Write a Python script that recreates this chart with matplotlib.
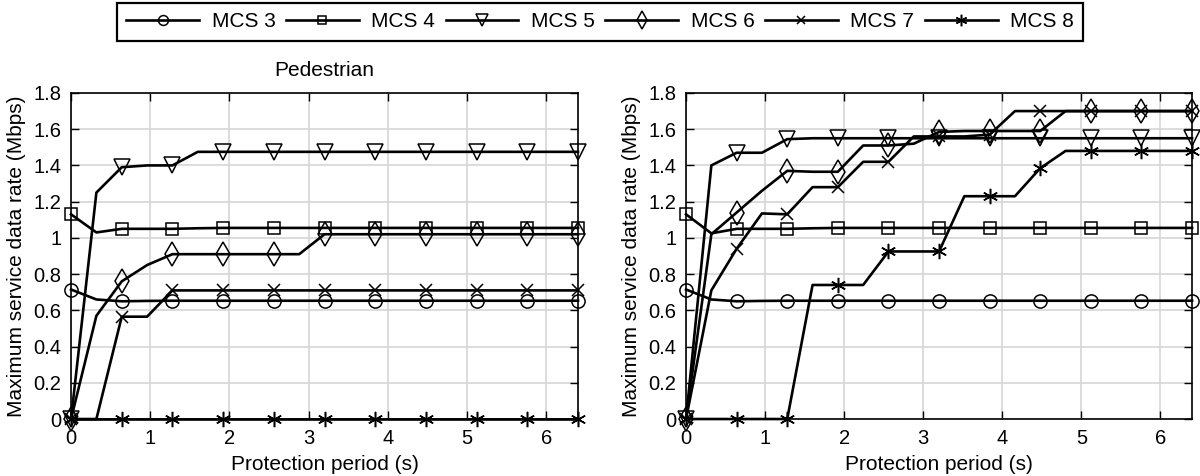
import numpy as np
from matplotlib import pyplot as plt

plt.rcParams['font.family'] = ['Liberation Sans', 'DejaVu Sans']
plt.rcParams['font.size'] = 14

# protection period (s)
period = [0, 0.32, 0.64, 0.96, 1.28, 1.6, 1.92, 2.24, 2.56, 2.88, 3.2,
          3.52, 3.84, 4.16, 4.48, 4.8, 5.12, 5.44, 5.76, 6.08, 6.4]

labels = ["MCS 3", "MCS 4", "MCS 5", "MCS 6", "MCS 7", "MCS 8"]

# pedestrian (left)
ped_mcs3 = [0.715, 0.66, 0.65, 0.652, 0.653, 0.653, 0.653, 0.653, 0.653, 0.653, 0.653,
            0.653, 0.653, 0.653, 0.653, 0.653, 0.653, 0.653, 0.653, 0.653, 0.653]
ped_mcs4 = [1.13, 1.03, 1.05, 1.05, 1.05, 1.053, 1.055, 1.055, 1.055, 1.055, 1.055,
            1.055, 1.055, 1.055, 1.055, 1.055, 1.055, 1.055, 1.055, 1.055, 1.055]
ped_mcs5 = [0, 1.25, 1.39, 1.40, 1.40, 1.475, 1.475, 1.475, 1.475, 1.475, 1.475,
            1.475, 1.475, 1.475, 1.475, 1.475, 1.475, 1.475, 1.475, 1.475, 1.475]
ped_mcs6 = [0, 0.57, 0.76, 0.85, 0.91, 0.91, 0.91, 0.91, 0.91, 0.91, 1.02,
            1.02, 1.02, 1.02, 1.02, 1.02, 1.02, 1.02, 1.02, 1.02, 1.02]
ped_mcs7 = [0, 0, 0.565, 0.565, 0.71, 0.71, 0.71, 0.71, 0.71, 0.71, 0.71,
            0.71, 0.71, 0.71, 0.71, 0.71, 0.71, 0.71, 0.71, 0.71, 0.71]
ped_mcs8 = [0, 0, 0, 0, 0, 0, 0, 0, 0, 0, 0,
            0, 0, 0, 0, 0, 0, 0, 0, 0, 0]

# right panel
veh_mcs3 = [0.715, 0.66, 0.65, 0.652, 0.653, 0.653, 0.653, 0.653, 0.653, 0.653, 0.653,
            0.653, 0.653, 0.653, 0.653, 0.653, 0.653, 0.653, 0.653, 0.653, 0.653]
veh_mcs4 = [1.13, 1.025, 1.05, 1.05, 1.05, 1.053, 1.055, 1.055, 1.055, 1.055, 1.055,
            1.055, 1.055, 1.055, 1.055, 1.055, 1.055, 1.055, 1.055, 1.055, 1.055]
veh_mcs5 = [0, 1.40, 1.47, 1.47, 1.545, 1.55, 1.55, 1.55, 1.55, 1.55, 1.55,
            1.55, 1.55, 1.55, 1.55, 1.55, 1.55, 1.55, 1.55, 1.55, 1.55]
veh_mcs6 = [0, 1.02, 1.14, 1.26, 1.37, 1.365, 1.365, 1.51, 1.51, 1.52, 1.585,
            1.59, 1.59, 1.59, 1.59, 1.70, 1.70, 1.70, 1.70, 1.70, 1.70]
veh_mcs7 = [0, 0.71, 0.94, 1.135, 1.13, 1.28, 1.28, 1.42, 1.42, 1.56, 1.56,
            1.56, 1.57, 1.70, 1.70, 1.70, 1.70, 1.70, 1.70, 1.70, 1.70]
veh_mcs8 = [0, 0, 0, 0, 0, 0.74, 0.74, 0.74, 0.925, 0.925, 0.925,
            1.23, 1.23, 1.23, 1.385, 1.48, 1.48, 1.48, 1.48, 1.48, 1.48]

markers = ['o', 's', 'v', 'd', 'x', (6, 2, 0)]
msizes = [9.5, 8, 11, 12, 8, 11]

fig = plt.figure(figsize=(12, 4.76), dpi=100)
ax1 = fig.add_axes([0.0592, 0.1197, 0.4225, 0.685])
ax2 = fig.add_axes([0.5717, 0.1197, 0.4217, 0.685])


def draw(ax, series):
    lines = []
    for s, m, ms, lab in zip(series, markers, msizes, labels):
        ln, = ax.plot(period, s, color='black', lw=1.9, marker=m, ms=ms,
                      mfc='none', mec='black', mew=1.1, markevery=2,
                      label=lab, clip_on=False)
        lines.append(ln)
    ax.set_xlim(0, 6.4)
    ax.set_ylim(0, 1.8)
    ax.set_xticks([0, 1, 2, 3, 4, 5, 6])
    ax.set_yticks([0, 0.2, 0.4, 0.6, 0.8, 1, 1.2, 1.4, 1.6, 1.8])
    ax.set_yticklabels(['0', '0.2', '0.4', '0.6', '0.8', '1', '1.2', '1.4', '1.6', '1.8'])
    ax.grid(True, color='#d6d6d6', lw=1.2)
    ax.set_axisbelow(True)
    ax.tick_params(direction='in', top=True, right=True, length=6, width=1,
                   labelsize=14.5, pad=7)
    for sp in ax.spines.values():
        sp.set_linewidth(1.2)
    ax.set_xlabel("Protection period (s)", fontsize=15, labelpad=5)
    ax.set_ylabel("Maximum service data rate (Mbps)", fontsize=15, labelpad=5)
    return lines


handles = draw(ax1, [ped_mcs3, ped_mcs4, ped_mcs5, ped_mcs6, ped_mcs7, ped_mcs8])
draw(ax2, [veh_mcs3, veh_mcs4, veh_mcs5, veh_mcs6, veh_mcs7, veh_mcs8])
ax1.set_title("Pedestrian", fontsize=15, pad=12)

leg = fig.legend(handles=handles, loc='upper center', bbox_to_anchor=(0.5, 0.994),
                 ncol=6, fontsize=15, handlelength=3.5, markerscale=0.75,
                 fancybox=False, edgecolor='black', framealpha=1, borderaxespad=0,
                 columnspacing=0.5, handletextpad=0.6, borderpad=0.45)
leg.get_frame().set_linewidth(1.6)

plt.savefig('out.png', dpi=100)
